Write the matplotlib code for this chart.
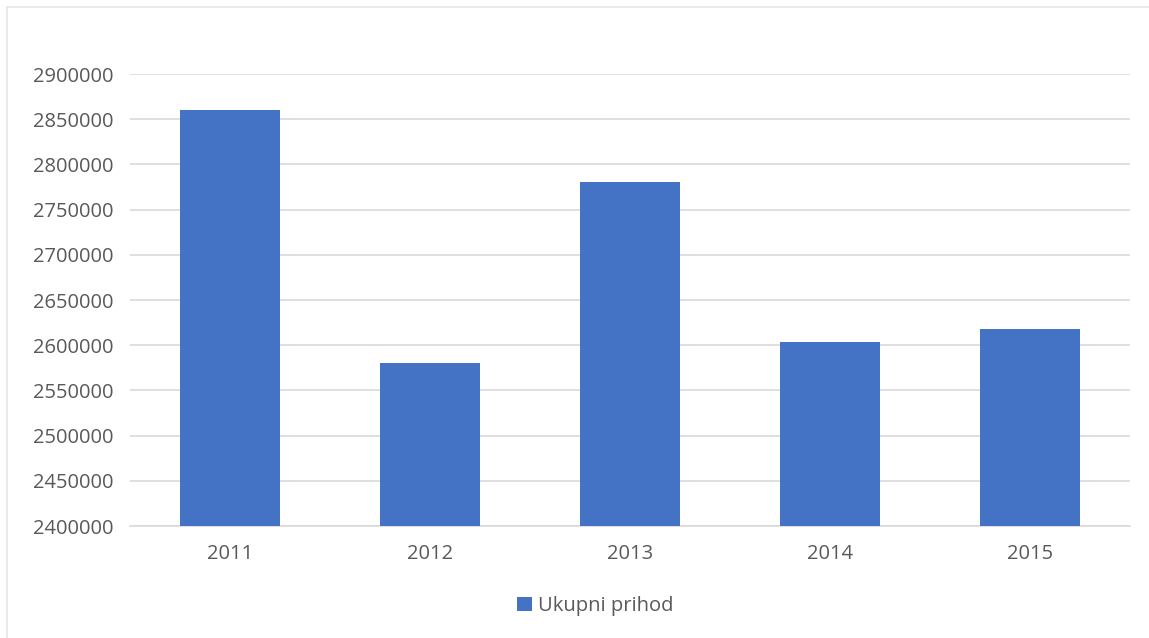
import matplotlib
matplotlib.use("Agg")
import matplotlib.pyplot as plt
from matplotlib.lines import Line2D
from matplotlib.ticker import MultipleLocator, StrMethodFormatter

years = ["2011", "2012", "2013", "2014", "2015"]
prihod = [2860000, 2580000, 2780000, 2603000, 2618000]
series_name = "Ukupni prihod"

BAR_COLOR = "#4472c4"
TEXT_COLOR = "#595959"
GRID_COLOR = "#d9d9d9"

plt.rcParams["font.family"] = ["Open Sans", "DejaVu Sans"]

fig = plt.figure(figsize=(11.49, 6.38), dpi=100)
ax = fig.add_axes([130 / 1149, 112 / 638, 1000 / 1149, 452 / 638])

x = range(len(years))
ax.bar(x, prihod, width=0.5, color=BAR_COLOR, label=series_name, zorder=3)

ax.set_xlim(-0.5, len(years) - 0.5)
ax.set_ylim(2400000, 2900000)
ax.yaxis.set_major_locator(MultipleLocator(50000))
ax.yaxis.set_major_formatter(StrMethodFormatter("{x:.0f}"))
ax.set_xticks(list(x))
ax.set_xticklabels(years)

ax.grid(axis="y", color=GRID_COLOR, linewidth=1.2, zorder=0)
for side in ["top", "right", "left"]:
    ax.spines[side].set_visible(False)
ax.spines["bottom"].set_color(GRID_COLOR)
ax.spines["bottom"].set_linewidth(1.2)
ax.tick_params(axis="both", length=0, colors=TEXT_COLOR, labelsize=14.5)
ax.tick_params(axis="y", pad=12)
ax.tick_params(axis="x", pad=13)

fig.legend(loc="center", bbox_to_anchor=(595 / 1149, 1 - 606 / 638), frameon=False,
           fontsize=14.5, labelcolor=TEXT_COLOR, handlelength=0.75, handleheight=0.75,
           handletextpad=0.3)

# light chart border (left and top)
fig.add_artist(Line2D([6.5 / 1149, 6.5 / 1149], [0, 1 - 6.5 / 638], color="#e6e6e6", linewidth=1.2))
fig.add_artist(Line2D([6.5 / 1149, 1], [1 - 6.5 / 638, 1 - 6.5 / 638], color="#e6e6e6", linewidth=1.2))

fig.savefig("out.png", dpi=100)
